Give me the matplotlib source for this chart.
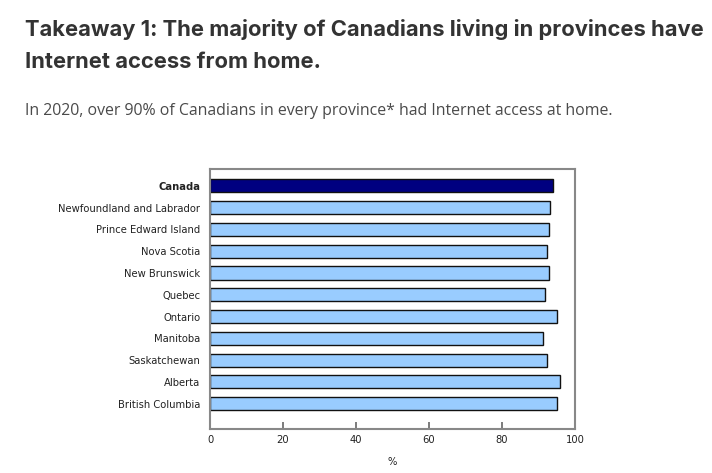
import matplotlib.pyplot as plt
import numpy as np

provinces = ["Canada", "Newfoundland and Labrador", "Prince Edward Island", "Nova Scotia",
             "New Brunswick", "Quebec", "Ontario", "Manitoba", "Saskatchewan",
             "Alberta", "British Columbia"]
values = [94.0, 93.1, 92.9, 92.3, 92.8, 91.7, 95.2, 91.3, 92.3, 96.0, 95.2]
xticks = [0, 20, 40, 60, 80, 100]

title = "Takeaway 1: The majority of Canadians living in provinces have\nInternet access from home."
subtitle = "In 2020, over 90% of Canadians in every province* had Internet access at home."

fig = plt.figure(figsize=(7.12, 4.73), dpi=100)
fig.text(25 / 712, 1 - 19 / 473, title, ha="left", va="top", fontsize=15.8,
         fontweight="bold", family="Inter", color="#333333", linespacing=1.75)
fig.text(25 / 712, 1 - 111 / 473, subtitle, ha="left", va="center", fontsize=11.4,
         family="Open Sans", color="#4a4a4a")

ax = fig.add_axes([210 / 712, 44 / 473, 365 / 712, 260 / 473])
y = np.arange(len(provinces))
colors = ["#000080"] + ["#99ccff"] * (len(provinces) - 1)
ax.barh(y, values, height=0.6, color=colors, edgecolor="#111111", linewidth=1)

ax.set_xlim(0, 100)
ax.set_ylim(11.17, -0.78)
ax.set_yticks(y)
ax.set_yticklabels(provinces, fontsize=7.2, family="DejaVu Sans", color="#222222")
ax.get_yticklabels()[0].set_fontweight("bold")
ax.tick_params(axis="y", length=0, pad=7)
ax.set_xticks(xticks)
ax.set_xticklabels([str(t) for t in xticks], fontsize=7.2, family="DejaVu Sans", color="#222222")
ax.tick_params(axis="x", direction="in", length=5, width=1.2, color="#666666", pad=4)
ax.set_xlabel("%", fontsize=7.2, family="DejaVu Sans", color="#222222", labelpad=9)
for s in ax.spines.values():
    s.set_color("#888888")
    s.set_linewidth(1.5)

plt.savefig("out.png", dpi=100)
